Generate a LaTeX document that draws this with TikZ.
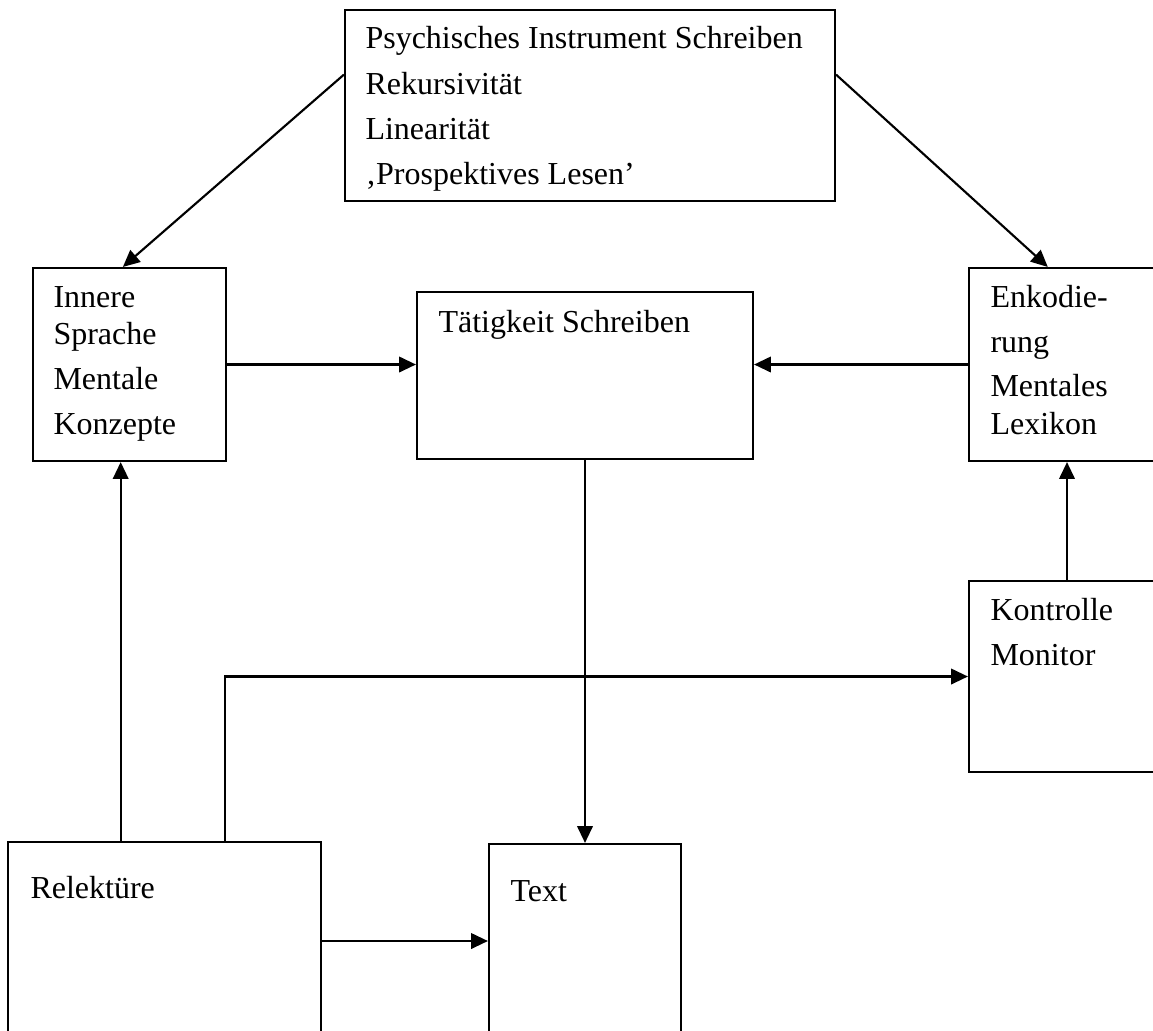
\documentclass[tikz,border=0pt]{standalone}
\usepackage{fontspec}
\setmainfont{Liberation Serif}
\usetikzlibrary{arrows.meta,calc}
\begin{document}
\begin{tikzpicture}[x=0.375pt,y=-0.375pt,
  box/.style={draw,line width=0.8pt,rectangle,inner sep=0pt},
  lbl/.style={anchor=base west,inner sep=0pt,font=\fontsize{12pt}{14pt}\selectfont},
  arr/.style={line width=0.8pt,-{Triangle[length=6.3pt,width=5.8pt]}}]
\useasboundingbox (0,0) rectangle (1153,1030);
\clip (0,0) rectangle (1153,1030);
% boxes
\node[box,minimum width=183.75pt,minimum height=71.625pt] (instr) at (590,105.5) {};
\node[box,minimum width=72.375pt,minimum height=72.375pt] (innere) at (129.5,364.5) {};
\node[box,minimum width=126pt,minimum height=62.625pt] (taet) at (585,375.5) {};
\node[box,minimum width=73.5pt,minimum height=72.375pt] (enk) at (1067,364.5) {};
\node[box,minimum width=73.5pt,minimum height=71.625pt] (kontr) at (1067,676.5) {};
\node[box,minimum width=117.375pt,minimum height=74.25pt] (rel) at (164.5,941) {};
\node[box,minimum width=72pt,minimum height=73.5pt] (text) at (585,942) {};
% labels
\node[lbl] (i1) at (365,48) {Psychisches Instrument Schreiben};
\node[lbl] (i2) at (365,94) {Rekursivität};
\node[lbl] (i3) at (365,139) {Linearität};
\node[lbl] (i4) at (365,184) {‚Prospektives Lesen’};
\node[lbl] (n1) at (53,307) {Innere};
\node[lbl] (n2) at (53,344) {Sprache};
\node[lbl] (n3) at (53,389) {Mentale};
\node[lbl] (n4) at (53,434) {Konzepte};
\node[lbl] (t1) at (438,332) {Tätigkeit Schreiben};
\node[lbl] (e1) at (990,307) {Enkodie-};
\node[lbl] (e2) at (990,352) {rung};
\node[lbl] (e3) at (990,396) {Mentales};
\node[lbl] (e4) at (990,434) {Lexikon};
\node[lbl] (k1) at (990,620) {Kontrolle};
\node[lbl] (k2) at (990,665) {Monitor};
\node[lbl] (r1) at (30,898) {Relektüre};
\node[lbl] (x1) at (510,901) {Text};
% connector points
\coordinate (il) at ($(instr.north west)!0.34!(instr.south west)$);
\coordinate (ir) at ($(instr.north east)!0.34!(instr.south east)$);
\coordinate (nt) at ($(innere.north west)!0.466!(innere.north east)$);
\coordinate (et) at ($(enk.north west)!0.403!(enk.north east)$);
\coordinate (r1p) at ($(rel.north west)!0.361!(rel.north east)$);
\coordinate (r2p) at ($(rel.north west)!0.693!(rel.north east)$);
% connectors
\draw[arr] (il) -- (nt);
\draw[arr] (ir) -- (et);
\draw[arr] (innere.east) -- (innere.east -| taet.west);
\draw[arr] (enk.west) -- (enk.west -| taet.east);
\draw[arr] (taet.south) -- (text.north);
\draw[arr] (r1p) -- (r1p |- innere.south);
\draw[arr] ($(r2p)+(0,2)$) |- (kontr.west);
\draw[arr] (rel.east) -- (rel.east -| text.west);
\draw[arr] (kontr.north) -- (enk.south);
\end{tikzpicture}
\end{document}
